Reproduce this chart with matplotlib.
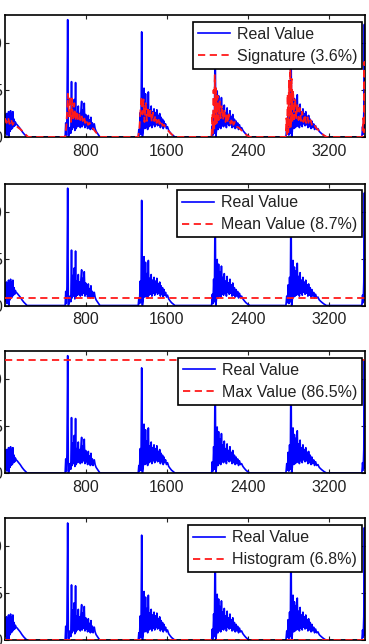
import matplotlib
matplotlib.use("Agg")
import matplotlib.pyplot as plt
import numpy as np

plt.rcParams['font.family'] = ['Liberation Sans', 'DejaVu Sans']

# ---------------- data ----------------
real_burst_0 = [(0, 1.6), (5, 2.4), (10, 0.4), (15, 2.5), (20, 0.2), (25, 2.3), (30, 0.5), (35, 2.7),
                (40, 0.0), (45, 2.4), (50, 0.6), (55, 2.8), (60, 0.8), (66, 2.5), (72, 0.9), (78, 2.7),
                (84, 1.1), (90, 1.9), (96, 1.2), (102, 1.6), (110, 1.4), (120, 1.3), (135, 1.1),
                (150, 0.9), (168, 0.6), (186, 0.35), (204, 0.15), (218, 0.0)]
real_burst_1 = [(594, 0), (600, 1.5), (606, 0.2), (612, 2.0), (619, 12.5), (626, 0.0), (634, 0.3),
                (642, 1.0), (650, 0.4), (657, 5.9), (663, 0.8), (670, 3.2), (677, 1.0), (684, 4.0),
                (690, 0.7), (697, 5.8), (703, 0.9), (710, 2.6), (717, 1.1), (724, 3.3), (730, 1.2),
                (737, 2.5), (744, 1.0), (750, 2.8), (757, 3.8), (763, 1.1), (770, 2.9), (776, 1.3),
                (783, 3.6), (790, 1.0), (797, 2.4), (803, 1.2), (810, 2.0), (816, 0.9), (823, 2.3),
                (830, 1.0), (836, 1.8), (843, 0.8), (849, 2.1), (856, 0.9), (863, 1.5), (870, 0.8),
                (876, 1.2), (882, 1.4), (890, 0.9), (900, 0.6), (912, 0.4), (925, 0.2), (938, 0)]
real_burst_2 = [(1316, 0), (1322, 0.8), (1328, 0.2), (1336, 2.6), (1343, 0.3), (1350, 11.2), (1357, 0.0),
                (1365, 0.6), (1373, 5.2), (1381, 0.9), (1388, 4.6), (1395, 1.0), (1402, 3.4), (1409, 0.8),
                (1416, 4.8), (1423, 1.1), (1430, 2.9), (1437, 1.2), (1444, 3.3), (1451, 1.0), (1458, 2.7),
                (1465, 1.3), (1472, 3.0), (1479, 1.1), (1486, 2.6), (1493, 1.4), (1500, 2.9), (1507, 1.2),
                (1514, 2.3), (1521, 1.3), (1528, 2.5), (1535, 1.0), (1542, 2.1), (1549, 1.2), (1556, 1.9),
                (1563, 0.9), (1570, 1.7), (1578, 1.1), (1586, 1.4), (1595, 0.9), (1605, 1.1), (1617, 0.7),
                (1630, 0.5), (1645, 0.3), (1662, 0.15), (1679, 0)]
real_burst_3 = [(2041, 0), (2048, 1.2), (2054, 0.2), (2061, 2.8), (2068, 0.4), (2076, 12.0), (2082, 0),
                (2089, 0.7), (2096, 4.9), (2103, 0.8), (2110, 4.4), (2117, 1.0), (2124, 3.6), (2131, 0.9),
                (2138, 4.2), (2145, 1.2), (2152, 3.0), (2159, 1.1), (2166, 3.4), (2173, 1.3), (2180, 2.6),
                (2187, 1.0), (2194, 3.1), (2201, 1.4), (2208, 2.4), (2215, 1.2), (2222, 2.8), (2229, 1.3),
                (2236, 2.2), (2243, 1.0), (2250, 2.4), (2258, 1.1), (2266, 1.9), (2274, 0.9), (2282, 1.7),
                (2290, 1.0), (2298, 1.5), (2307, 0.8), (2316, 1.3), (2326, 0.9), (2337, 1.0), (2350, 0.7),
                (2364, 0.5), (2380, 0.3), (2400, 0.12), (2420, 0)]
real_burst_4 = [(2775, 0), (2783, 1.0), (2790, 0.3), (2797, 2.2), (2804, 0.2), (2811, 3.0), (2818, 0.4),
                (2825, 12.2), (2831, 0), (2838, 0.6), (2845, 4.8), (2852, 0.9), (2859, 4.1), (2866, 1.0),
                (2873, 3.7), (2880, 1.1), (2887, 4.5), (2894, 1.2), (2901, 3.1), (2908, 1.0), (2915, 3.5),
                (2922, 1.3), (2929, 2.7), (2936, 1.1), (2943, 3.0), (2950, 1.4), (2957, 2.5), (2964, 1.2),
                (2971, 2.7), (2978, 1.3), (2985, 2.2), (2992, 1.0), (2999, 2.3), (3007, 1.1), (3015, 1.9),
                (3023, 0.9), (3031, 1.7), (3040, 1.0), (3049, 1.4), (3058, 0.8), (3068, 1.2), (3079, 0.8),
                (3091, 0.9), (3104, 0.6), (3118, 0.45), (3134, 0.3), (3152, 0.15), (3175, 0)]
real_burst_5 = [(3525, 0), (3532, 1.1), (3538, 0.3), (3544, 2.5), (3550, 12.0), (3556, 0.5), (3562, 5.0)]

sig_burst_0 = [(0, 2.0), (15, 1.5), (30, 2.1), (45, 1.4), (60, 1.9), (75, 1.3), (90, 1.5), (110, 1.2),
               (130, 1.0), (155, 0.8), (180, 0.55), (205, 0.25), (230, 0)]
sig_burst_1 = [(594, 0), (606, 1.2), (615, 3.0), (622, 4.6), (632, 2.2), (642, 4.4), (652, 1.6), (662, 4.1),
               (672, 1.8), (684, 3.6), (696, 1.7), (708, 2.8), (720, 1.9), (732, 2.5), (744, 1.8), (756, 2.3),
               (768, 1.7), (780, 2.2), (792, 1.5), (806, 1.9), (820, 1.3), (836, 1.5), (852, 1.0), (870, 0.9),
               (890, 0.6), (910, 0.35), (925, 0.15), (940, 0)]
sig_burst_2 = [(1316, 0), (1328, 1.0), (1338, 2.8), (1348, 4.3), (1358, 2.4), (1368, 4.0), (1378, 1.6),
               (1390, 3.6), (1402, 1.7), (1414, 3.2), (1426, 1.9), (1438, 2.9), (1450, 1.6), (1462, 2.6),
               (1474, 1.7), (1486, 2.3), (1498, 1.5), (1512, 2.1), (1526, 1.4), (1540, 1.8), (1556, 1.2),
               (1572, 1.3), (1590, 0.9), (1610, 0.7), (1630, 0.45), (1650, 0.25), (1668, 0.1), (1682, 0)]
sig_burst_3 = [(2040, 0), (2048, 2.5), (2054, 0.4), (2060, 5.0), (2066, 0.6), (2072, 6.6), (2078, 1.2),
               (2085, 5.2), (2092, 1.5), (2100, 4.4), (2110, 1.8), (2120, 3.8), (2130, 2.0), (2142, 3.4),
               (2154, 1.8), (2166, 3.0), (2178, 1.6), (2190, 2.6), (2202, 1.5), (2214, 2.4), (2228, 1.4),
               (2242, 2.0), (2256, 1.3), (2272, 1.6), (2290, 1.1), (2308, 1.0), (2328, 0.8), (2350, 0.55),
               (2374, 0.3), (2398, 0.12), (2420, 0)]
sig_burst_4 = [(2772, 0), (2780, 2.0), (2786, 0.3), (2792, 4.6), (2798, 0.5), (2805, 6.0), (2811, 0.8),
               (2818, 7.3), (2824, 1.0), (2831, 6.2), (2838, 1.5), (2846, 5.0), (2856, 1.9), (2866, 4.1),
               (2877, 2.0), (2888, 3.6), (2900, 1.8), (2912, 3.1), (2924, 1.7), (2936, 2.7), (2948, 1.6),
               (2960, 2.4), (2974, 1.5), (2988, 2.1), (3002, 1.3), (3018, 1.8), (3034, 1.2), (3052, 1.4),
               (3070, 1.0), (3090, 0.8), (3112, 0.55), (3136, 0.3), (3158, 0.12), (3178, 0)]
sig_burst_5 = [(3530, 0), (3538, 2.0), (3544, 0.5), (3550, 8.0), (3556, 1.5), (3562, 6.0)]

mean_value = 0.8
max_value = 12.0
hist_value = 0.05

x_ticks = [800, 1600, 2400, 3200]
y_ticks = [0, 5, 10]
x_range = (0, 3556)
y_range = (0, 13)

labels = ["Signature (3.6%)", "Mean Value (8.7%)", "Max Value (86.5%)", "Histogram (6.8%)"]

# ---------------- assemble ----------------
real = np.array(real_burst_0 + real_burst_1 + real_burst_2 + real_burst_3 + real_burst_4 + real_burst_5,
                dtype=float)
sig = np.array(sig_burst_0 + sig_burst_1 + sig_burst_2 + sig_burst_3 + sig_burst_4 + sig_burst_5,
               dtype=float)

W, H = 369, 644
fig = plt.figure(figsize=(W / 100, H / 100), dpi=100)

panel_tops = [15, 183.5, 351, 518.3]
panel_h = 122
left_px, right_px = 5, 365

BLUE = '#0000ff'
RED = '#ff1a1a'
FS = 11.5

for i, top in enumerate(panel_tops):
    ax = fig.add_axes([left_px / W, 1 - (top + panel_h) / H, (right_px - left_px) / W, panel_h / H])
    ax.plot(real[:, 0], real[:, 1], color=BLUE, lw=1.2, label="Real Value", zorder=2)
    if i == 0:
        ax.plot(sig[:, 0], sig[:, 1], color=RED, lw=1.3, dashes=(4, 2.5), label=labels[i], zorder=3)
    else:
        val = [mean_value, max_value, hist_value][i - 1]
        ax.plot(list(x_range), [val, val], color=RED, lw=1.3, dashes=(4, 2.5), label=labels[i], zorder=3)
    ax.set_xlim(*x_range)
    ax.set_ylim(*y_range)
    ax.set_xticks(x_ticks)
    ax.set_yticks(y_ticks)
    ax.tick_params(axis='both', direction='in', top=True, right=True, length=3, width=0.8,
                   labelsize=FS, colors='#222222')
    ax.tick_params(axis='x', pad=5)
    ax.tick_params(axis='y', pad=2)
    for s in ax.spines.values():
        s.set_linewidth(1.2)
        s.set_color('black')
    leg = ax.legend(loc='upper right', bbox_to_anchor=(1 - 3 / 360, 1 - 7 / 122), borderaxespad=0,
                    fontsize=FS, fancybox=False, framealpha=1, edgecolor='black',
                    handlelength=2.0, handletextpad=0.45, borderpad=0.3, labelspacing=0.45)
    leg.get_frame().set_linewidth(1.2)
    for t in leg.get_texts():
        t.set_color('#222222')

fig.savefig("out.png", dpi=100)
